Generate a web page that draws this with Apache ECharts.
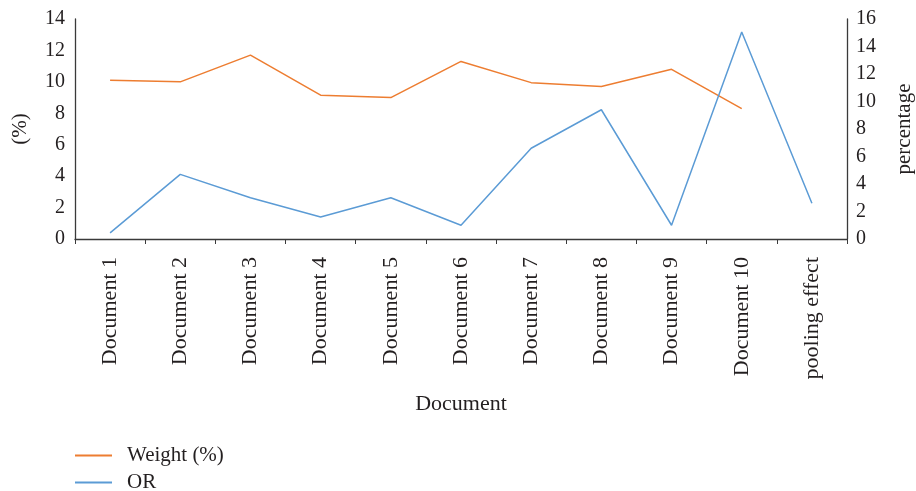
<!DOCTYPE html>
<html>
<head>
<meta charset="utf-8">
<script src="https://cdn.jsdelivr.net/npm/echarts@6/dist/echarts.min.js"></script>
<style>
  html, body { margin: 0; padding: 0; background: #fff; }
  #main { width: 916px; height: 491px; }
</style>
</head>
<body>
<div id="main"></div>
<script>
// categories on the x axis
var documents = ["Document 1", "Document 2", "Document 3", "Document 4", "Document 5",
  "Document 6", "Document 7", "Document 8", "Document 9", "Document 10", "pooling effect"];
// Weight (%) - left axis, no value for pooling effect
var weight = [10.1, 10.0, 11.7, 9.15, 9.0, 11.3, 9.95, 9.7, 10.8, 8.3, null];
// OR - right axis
var orValues = [0.45, 4.7, 3.0, 1.6, 3.0, 1.0, 6.6, 9.4, 1.0, 15.05, 2.6];

var font = "Liberation Serif";
var textColor = "#231f20";

var legendText = { fontFamily: font, fontSize: 21, color: textColor, padding: [0, 0, 0, 10] };

var myChart = echarts.init(document.getElementById("main"));
var option = {
  backgroundColor: "#fff",
  animation: false,
  textStyle: { fontFamily: font, color: textColor },
  grid: { left: 75, right: 69, top: 19, bottom: 252, containLabel: false, outerBoundsMode: "none" },
  legend: [
    {
      left: 70, top: 440, itemWidth: 37, itemHeight: 2, icon: "rect",
      textStyle: legendText, data: ["Weight (%)"]
    },
    {
      left: 70, top: 467, itemWidth: 37, itemHeight: 2, icon: "rect",
      textStyle: legendText, data: ["OR"]
    }
  ],
  xAxis: {
    type: "category",
    boundaryGap: true,
    data: documents,
    name: "Document",
    nameLocation: "middle",
    nameGap: 154,
    nameTextStyle: { fontFamily: font, fontSize: 22, color: textColor },
    axisLine: { lineStyle: { color: "#3a3a3a", width: 1.3 } },
    axisTick: { show: true, length: 5, alignWithLabel: false, lineStyle: { color: "#3a3a3a" } },
    axisLabel: { rotate: 90, margin: 18, fontFamily: font, fontSize: 22, color: textColor, interval: 0 }
  },
  yAxis: [
    {
      type: "value",
      min: 0,
      max: 14,
      interval: 2,
      name: "(%)",
      nameLocation: "middle",
      nameRotate: 90,
      nameGap: 44,
      nameTextStyle: { fontFamily: font, fontSize: 21, color: textColor },
      axisLine: { show: true, lineStyle: { color: "#3a3a3a", width: 1.3 } },
      axisTick: { show: false },
      splitLine: { show: false },
      axisLabel: { margin: 10, fontFamily: font, fontSize: 20, color: textColor }
    },
    {
      type: "value",
      min: 0,
      max: 16,
      interval: 2,
      name: "percentage",
      nameLocation: "middle",
      nameRotate: 90,
      nameGap: 47,
      nameTextStyle: { fontFamily: font, fontSize: 21, color: textColor },
      axisLine: { show: true, lineStyle: { color: "#3a3a3a", width: 1.3 } },
      axisTick: { show: false },
      splitLine: { show: false },
      axisLabel: { margin: 9, fontFamily: font, fontSize: 20, color: textColor }
    }
  ],
  series: [
    {
      name: "Weight (%)",
      type: "line",
      yAxisIndex: 0,
      data: weight,
      symbol: "none",
      color: "#ed7d31",
      lineStyle: { color: "#ed7d31", width: 1.5 }
    },
    {
      name: "OR",
      type: "line",
      yAxisIndex: 1,
      data: orValues,
      symbol: "none",
      color: "#5b9bd5",
      lineStyle: { color: "#5b9bd5", width: 1.5 }
    }
  ]
};
myChart.setOption(option);
</script>
</body>
</html>
